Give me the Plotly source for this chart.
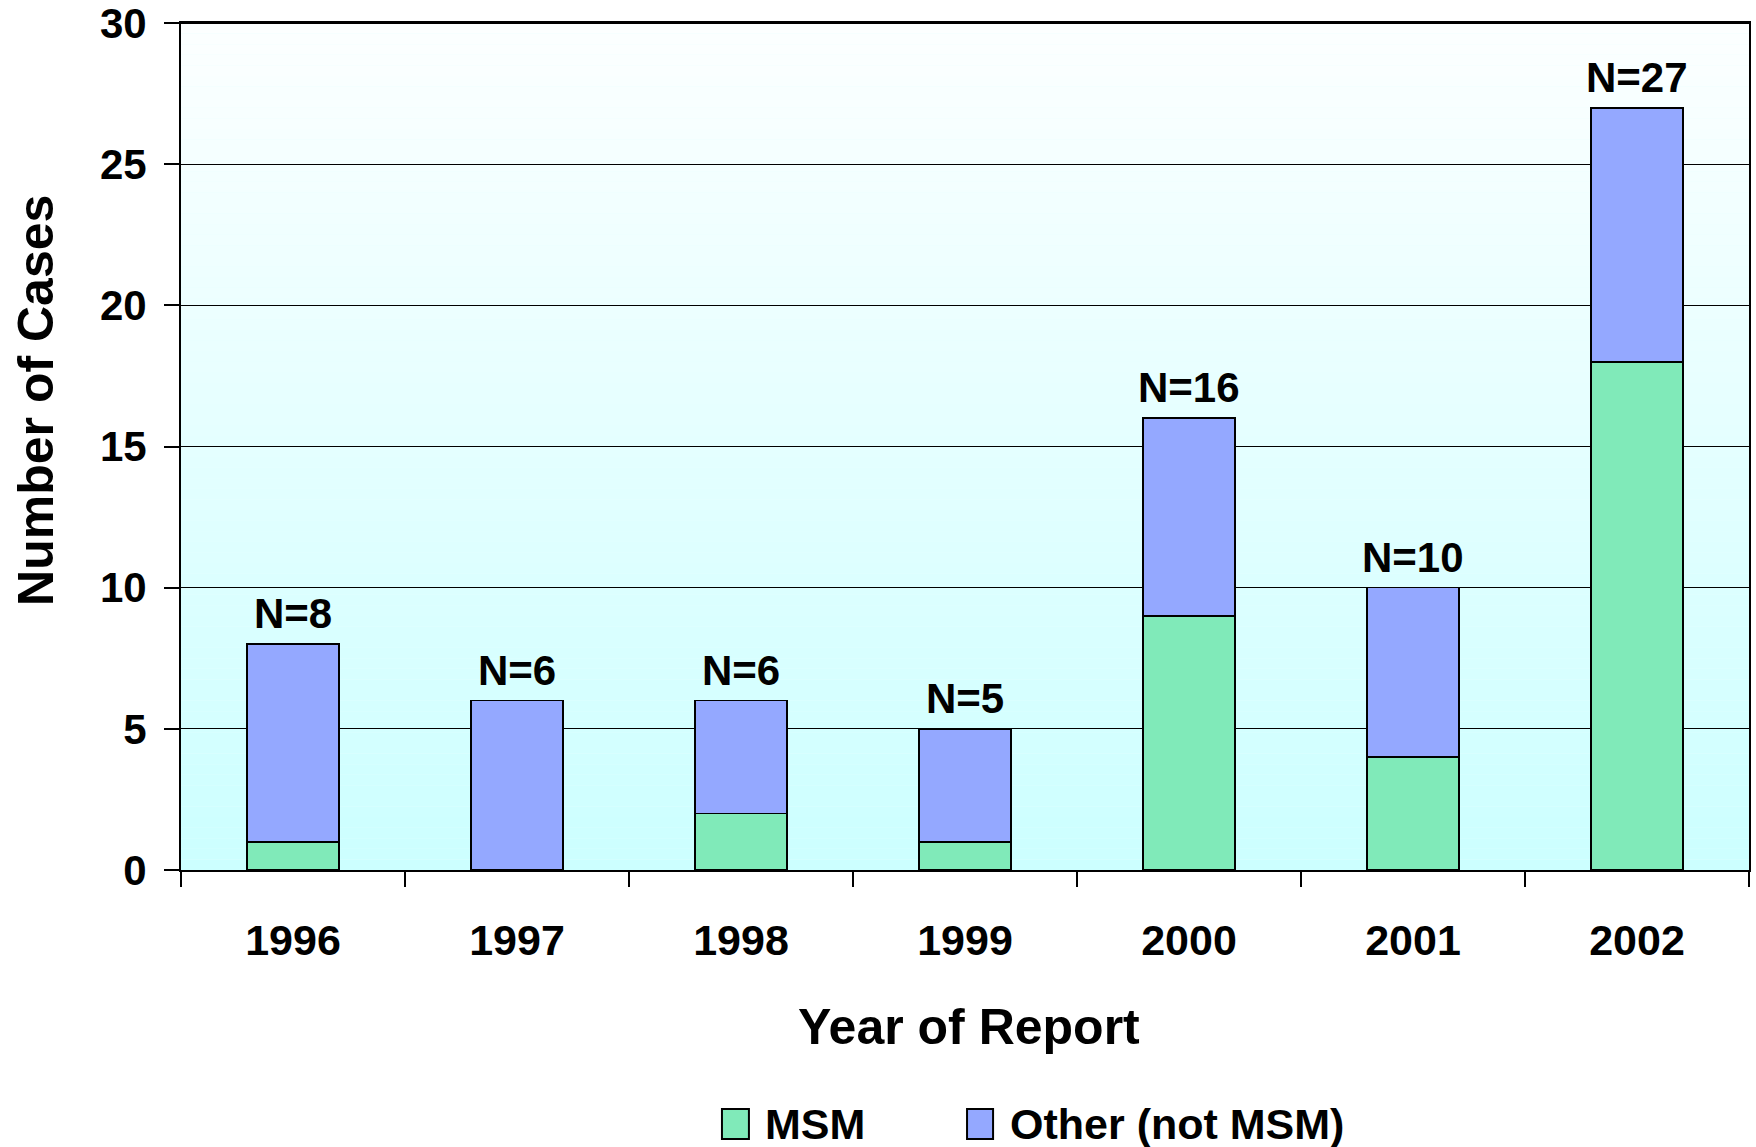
import plotly.graph_objects as go

# Reported cases by year and risk group
years = ["1996", "1997", "1998", "1999", "2000", "2001", "2002"]
msm = [1, 0, 2, 1, 9, 4, 18]
other = [7, 6, 4, 4, 7, 6, 9]
totals = [m + o for m, o in zip(msm, other)]

series_names = ["MSM", "Other (not MSM)"]
series_colors = ["#80EAB9", "#94A8FF"]

FONT = "Arial, Liberation Sans, sans-serif"

fig = go.Figure()
for name, vals, color in zip(series_names, [msm, other], series_colors):
    fig.add_trace(go.Bar(
        x=years, y=vals, name=name, width=0.41,
        marker=dict(color=color, line=dict(color="black", width=1.6)),
        showlegend=False,
    ))

# Vertical gradient behind the plot area: near-white at top, pale cyan at bottom
shapes = []
n_bands = 80
for i in range(n_bands):
    t = i / (n_bands - 1)
    r = round(204 + (252 - 204) * t)
    shapes.append(dict(
        type="rect", xref="x domain", yref="y domain",
        x0=0, x1=1, y0=i / n_bands, y1=(i + 1) / n_bands,
        fillcolor=f"rgb({r},255,255)", line=dict(width=0), layer="below",
    ))

# Frame line along the top of the plot area
shapes.append(dict(
    type="line", xref="x domain", yref="y domain",
    x0=0, x1=1, y0=1, y1=1, line=dict(color="black", width=2), layer="above",
))

# Hand-built legend with large swatches
legend_items = [
    (0.345, 0.3622, 0.3712, series_names[0], series_colors[0]),
    (0.5013, 0.5179, 0.5274, series_names[1], series_colors[1]),
]
annotations = []
for x0, x1, tx, label, color in legend_items:
    shapes.append(dict(
        type="rect", xref="paper", yref="paper",
        x0=x0, x1=x1, y0=-0.3176, y1=-0.2822,
        fillcolor=color, line=dict(color="black", width=2),
    ))
    annotations.append(dict(
        xref="paper", yref="paper", x=tx, y=-0.3, xanchor="left", yanchor="middle",
        text=label, showarrow=False,
        font=dict(family=FONT, size=43, color="black", weight="bold"),
    ))

# Total count above each stack (category index used as x position)
for idx, tot in enumerate(totals):
    annotations.append(dict(
        x=idx, y=tot, xref="x", yref="y", text=f"N={tot}", showarrow=False,
        yanchor="bottom", yshift=5,
        font=dict(family=FONT, size=42, color="black", weight="bold"),
    ))

# Axis titles
annotations.append(dict(
    xref="paper", yref="paper", x=0.5025, y=-0.1854, xanchor="center", yanchor="middle",
    text="Year of Report", showarrow=False,
    font=dict(family=FONT, size=50, color="black", weight="bold"),
))
annotations.append(dict(
    xref="paper", yref="paper", x=-0.0925, y=0.555, xanchor="center", yanchor="middle",
    text="Number of Cases", textangle=-90, showarrow=False,
    font=dict(family=FONT, size=50, color="black", weight="bold"),
))

fig.update_layout(
    width=1756, height=1147,
    margin=dict(l=181, r=7, t=23, b=277),
    paper_bgcolor="white", plot_bgcolor="#E6FFFF",
    barmode="stack", bargap=0.59,
    shapes=shapes, annotations=annotations,
    showlegend=False,
    font=dict(family=FONT, color="black"),
)
fig.update_xaxes(
    type="category", range=[-0.5, len(years) - 0.5], automargin=False,
    showline=True, linecolor="black", linewidth=2, mirror=True,
    ticks="outside", tickson="boundaries", ticklen=15, tickwidth=2, tickcolor="black",
    tickfont=dict(family=FONT, size=43, color="black", weight="bold"),
    tickangle=0, ticklabelstandoff=31, showgrid=False,
)
fig.update_yaxes(
    range=[0, 30], dtick=5, automargin=False, ticklabeloverflow="allow",
    showline=True, linecolor="black", linewidth=2, mirror=True,
    ticks="outside", ticklen=15, tickwidth=2, tickcolor="black",
    tickfont=dict(family=FONT, size=42, color="black", weight="bold"),
    ticklabelstandoff=9,
    showgrid=True, gridcolor="black", gridwidth=1.2, zeroline=False,
)

fig.write_html("out.html")
